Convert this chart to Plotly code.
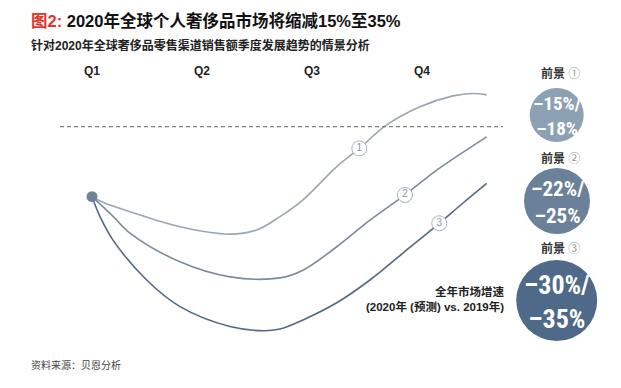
import plotly.graph_objects as go

# ---- data ----
quarters = ["Q1", "Q2", "Q3", "Q4"]
quarter_pos = [1, 2, 3, 4]

# scenario curves (x in quarters, y = relative sales level vs. 2019, dashed line = 0)
s1_x = [1.0, 1.10, 1.345, 1.80, 2.255, 2.497, 2.709, 2.918, 3.225, 3.43, 3.679, 3.982, 4.282, 4.464, 4.588]
s1_y = [-20, -21.6, -24.3, -28.6, -30.7, -29.5, -25.7, -20.9, -11.4, -6.2, 0.5, 5.7, 8.8, 9.5, 9.1]

s2_x = [1.0, 1.194, 1.345, 1.80, 2.255, 2.709, 2.918, 3.225, 3.527, 3.845, 4.134, 4.588]
s2_y = [-20, -25.7, -30.4, -38.6, -42.9, -43.2, -41.0, -34.3, -26.7, -19.5, -12.4, -2.9]

s3_x = [1.0, 1.073, 1.191, 1.497, 1.80, 2.255, 2.555, 2.709, 2.918, 3.225, 3.527, 3.827, 4.157, 4.373, 4.588]
s3_y = [-20, -25.7, -32.4, -43.8, -51.4, -57.1, -58.3, -57.8, -55.2, -50.3, -43.8, -36.1, -27.6, -21.8, -16.2]

label_x = [3.43, 3.845, 4.157]
label_y = [-6.2, -19.5, -27.6]
label_text = ["1", "2", "3"]

scenario_names = ["前景 ①", "前景 ②", "前景 ③"]
scenario_values = ["–15%/<br>–18%", "–22%/<br>–25%", "–30%/<br>–35%"]

baseline = 0
start_x, start_y = 1.0, -20

# ---- styling ----
line_colors = ["#9aa6b3", "#7b8b9c", "#56697f"]
circle_colors = ["#8da1b5", "#6a8199", "#4e6a88"]
OFF = 8  # page body margin
W, H = 621 - 2 * OFF, 388 - 2 * OFF
FONT = "Liberation Sans, Arial, Noto Sans CJK SC, sans-serif"
NARROW = "Liberation Sans Narrow, Arial Narrow, Roboto Condensed, Liberation Sans, sans-serif"


def px(p):
    return (p - OFF) / W


def py(p):
    return 1 - (p - OFF) / H


fig = go.Figure()
for xs, ys, c in [(s1_x, s1_y, line_colors[0]), (s2_x, s2_y, line_colors[1]), (s3_x, s3_y, line_colors[2])]:
    fig.add_trace(go.Scatter(x=xs, y=ys, mode="lines", line=dict(color=c, width=1.6, shape="spline", smoothing=1.0),
                             hoverinfo="skip", showlegend=False))

fig.add_trace(go.Scatter(x=[start_x], y=[start_y], mode="markers",
                         marker=dict(size=11, color="#6f8398"), showlegend=False, hoverinfo="skip"))

fig.add_trace(go.Scatter(x=label_x, y=label_y, mode="markers+text", text=label_text,
                         textposition="middle center",
                         textfont=dict(size=10, color="#8a96a3", family=FONT),
                         marker=dict(size=15, color="white", line=dict(color="#a7b1bb", width=1)),
                         showlegend=False, hoverinfo="skip"))

# x: Q1 at 92px (page), 110px per quarter; y: 3.5px per unit, baseline at 126.7px (page)
qx = 92 - OFF
by = 126.7 - OFF
x0 = 1 - qx / 110
x1 = 1 + (W - qx) / 110
y1 = by / 3.5
y0 = -(H - by) / 3.5

fig.add_shape(type="line", x0=1 + (60 - 92) / 110, x1=1 + (503 - 92) / 110, y0=baseline, y1=baseline,
              line=dict(color="#7f7f7f", width=1.2, dash="4px,3px"))

annotations = []
for q, xq in zip(quarters, quarter_pos):
    annotations.append(dict(x=xq, y=(126.7 - 71) / 3.5, xref="x", yref="y", text=f"<b>{q}</b>",
                            xanchor="center", yanchor="middle",
                            showarrow=False, font=dict(size=12, color="#222", family=FONT)))

# right-hand circles
circles = [(556.7, 115, 27), (557, 201, 33), (556.7, 300.5, 40.5)]
name_y = [73, 158, 248]
text_sizes = [19, 21, 26]
for i, (cx, cy, r) in enumerate(circles):
    fig.add_shape(type="circle", xref="paper", yref="paper",
                  x0=px(cx - r), x1=px(cx + r), y0=py(cy + r), y1=py(cy - r),
                  fillcolor=circle_colors[i], line=dict(width=0), layer="below")
    name, num = scenario_names[i].split(" ")
    annotations.append(dict(x=px(560), y=py(name_y[i]), xref="paper", yref="paper",
                            xanchor="center", yanchor="middle",
                            text=f"<b>{name}</b> <span style='color:#9a9a9a'>{num}</span>",
                            showarrow=False, font=dict(size=12, color="#333", family=FONT)))
    annotations.append(dict(x=px(cx), y=py(cy + 1), xref="paper", yref="paper",
                            xanchor="center", yanchor="middle",
                            text=f"<b>{scenario_values[i]}</b>", showarrow=False,
                            font=dict(size=text_sizes[i], color="white", family=NARROW)))

annotations.append(dict(x=px(507), y=py(299), xref="paper", yref="paper", xanchor="right", yanchor="middle",
                        text="<b>全年市场增速<br>(2020年 (预测) vs. 2019年)</b>", align="right",
                        showarrow=False, font=dict(size=11.5, color="#222", family=FONT)))

annotations.append(dict(x=px(29), y=py(21), xref="paper", yref="paper", xanchor="left", yanchor="middle",
                        text="<b><span style='color:#e0352b'>图2:</span> 2020年全球个人奢侈品市场将缩减15%至35%</b>",
                        showarrow=False, font=dict(size=16.5, color="#111", family=FONT)))
annotations.append(dict(x=px(29), y=py(45), xref="paper", yref="paper", xanchor="left", yanchor="middle",
                        text="<b>针对2020年全球奢侈品零售渠道销售额季度发展趋势的情景分析</b>",
                        showarrow=False, font=dict(size=12, color="#222", family=FONT)))
annotations.append(dict(x=px(29), y=py(365), xref="paper", yref="paper", xanchor="left", yanchor="middle",
                        text="资料来源：贝恩分析",
                        showarrow=False, font=dict(size=10, color="#444", family=FONT)))

fig.update_layout(width=W, height=H, margin=dict(l=0, r=0, t=0, b=0),
                  paper_bgcolor="white", plot_bgcolor="rgba(0,0,0,0)",
                  xaxis=dict(visible=False, range=[x0, x1], fixedrange=True),
                  yaxis=dict(visible=False, range=[y0, y1], fixedrange=True),
                  annotations=annotations, showlegend=False)

fig.write_html("out.html")
